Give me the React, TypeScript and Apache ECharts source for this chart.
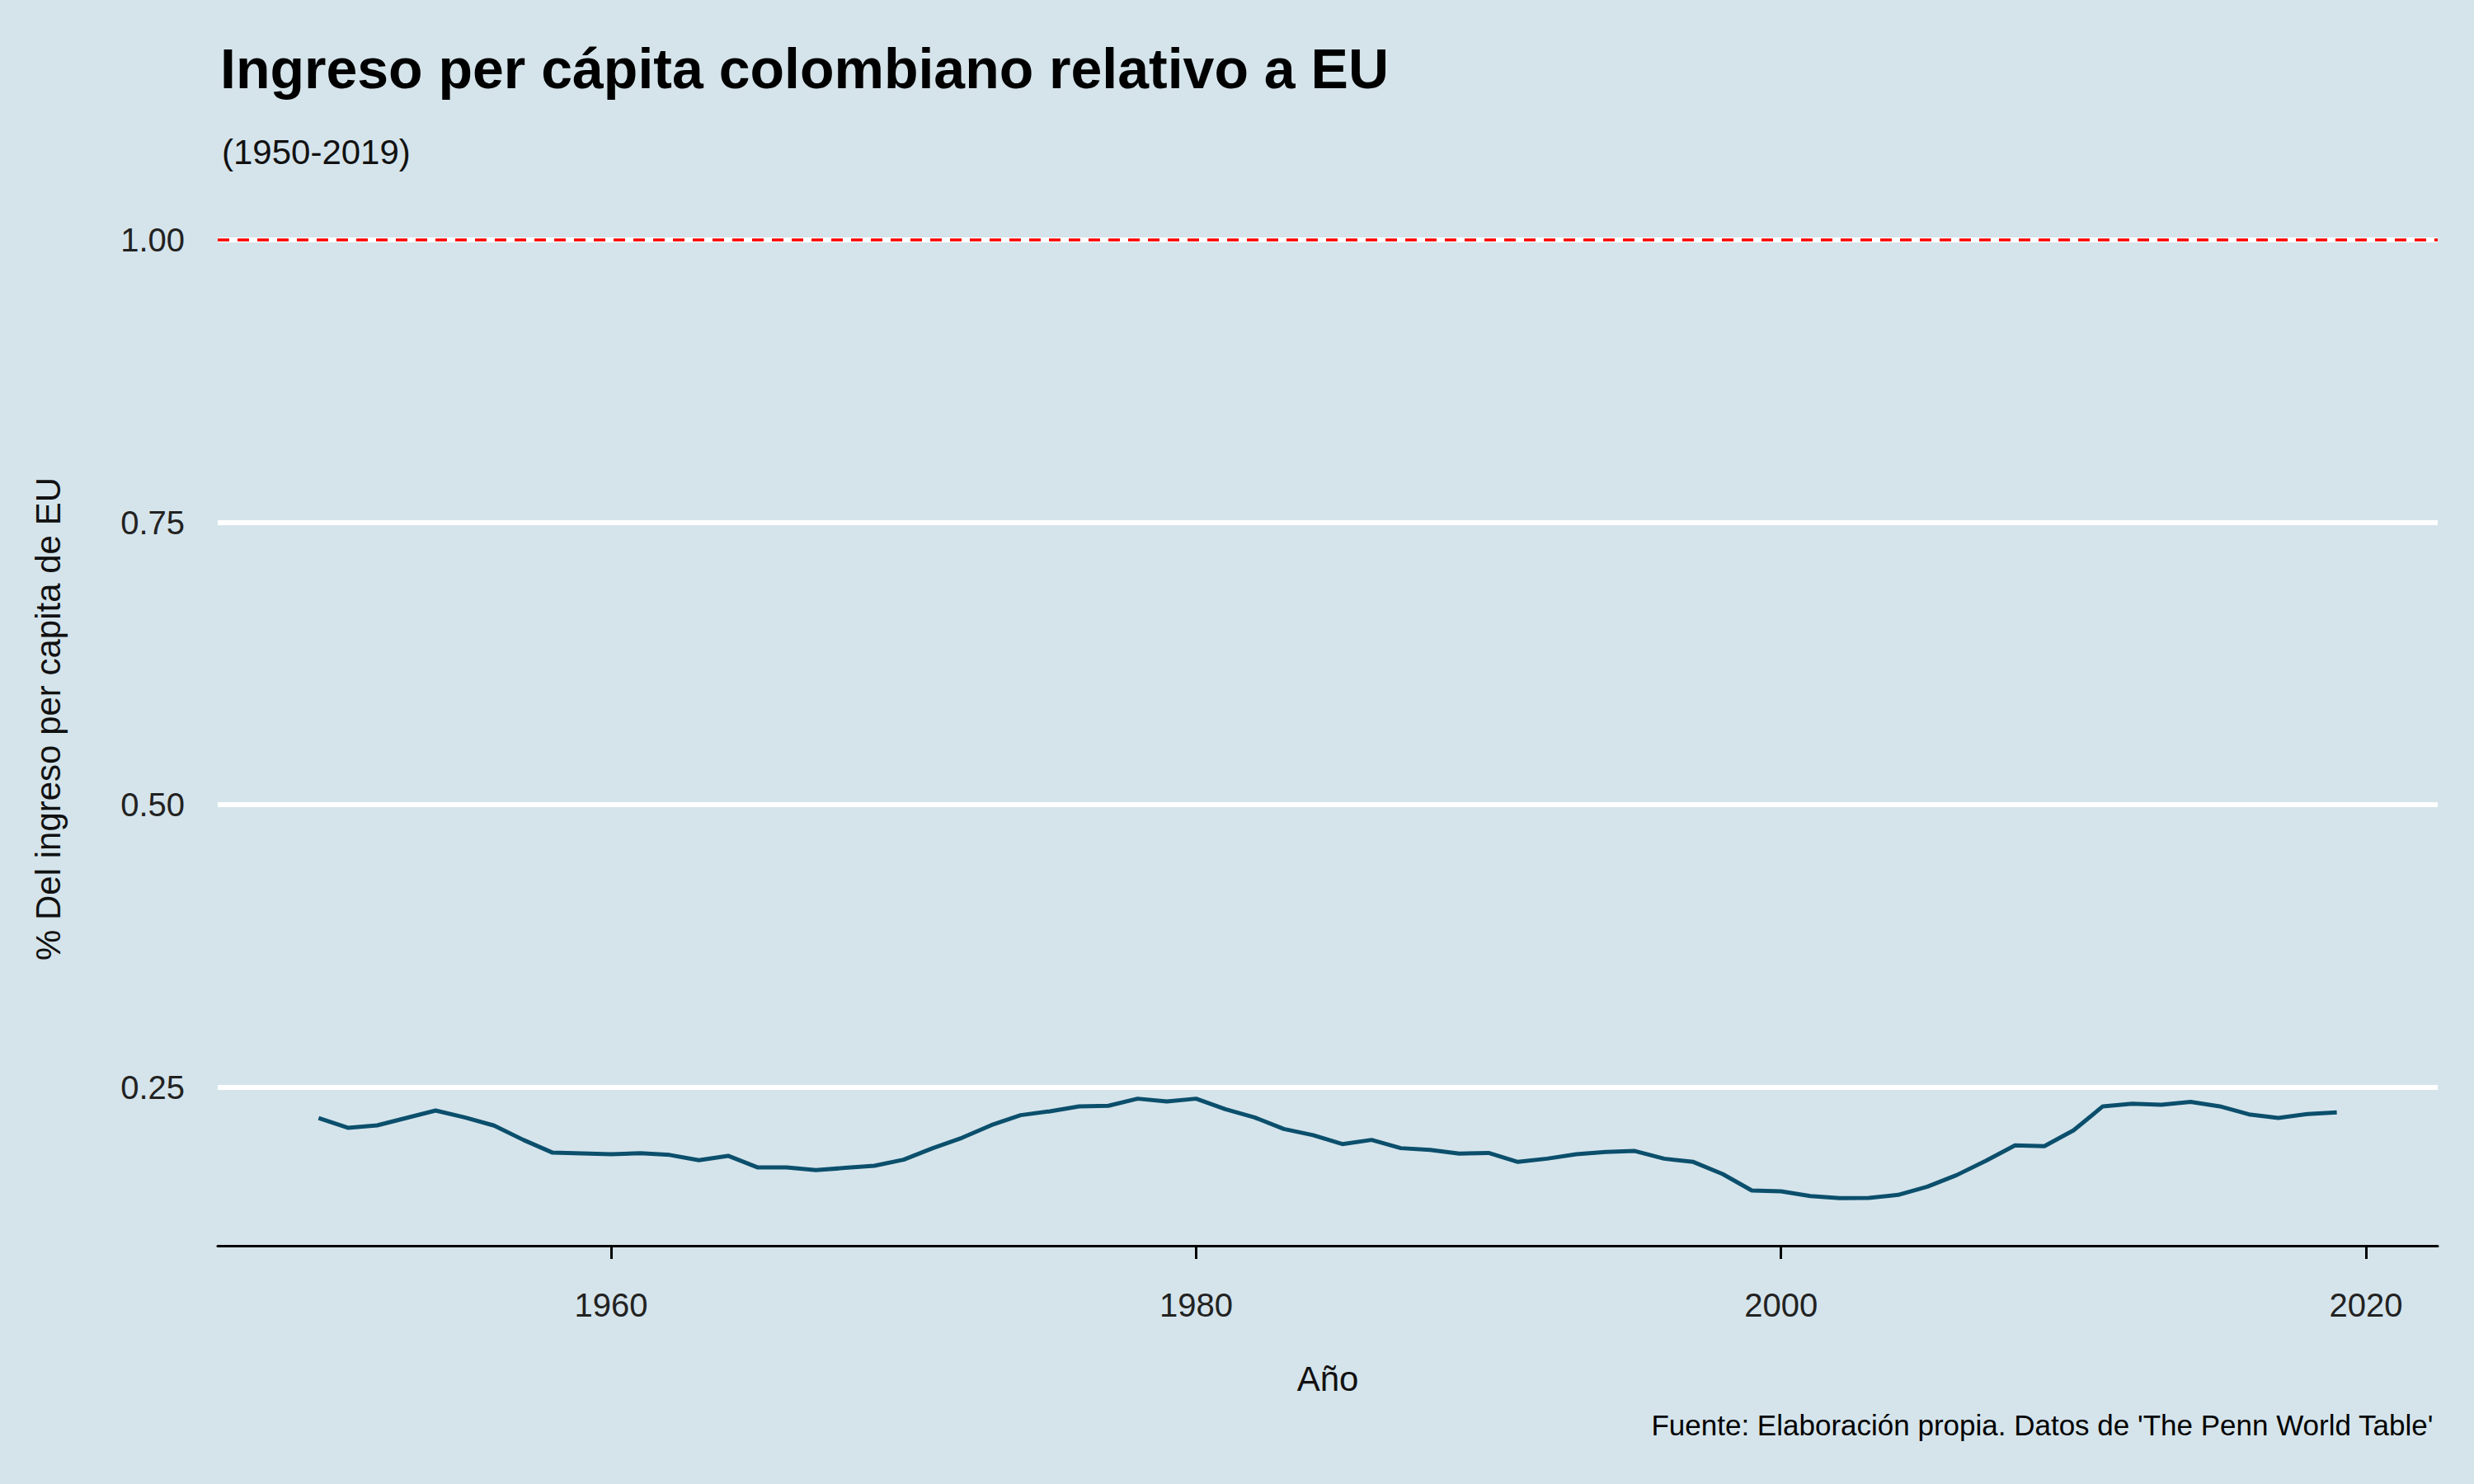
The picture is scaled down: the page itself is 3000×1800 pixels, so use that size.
import React, { useEffect, useRef } from "react";
import * as echarts from "echarts";

const years: number[] = [];
for (let y = 1950; y <= 2019; y++) years.push(y);
const ratio = [
  0.2227, 0.214, 0.2162, 0.2227, 0.2293, 0.2232, 0.216, 0.2033, 0.192, 0.1914,
  0.1906, 0.1916, 0.19, 0.1853, 0.1892, 0.179, 0.179, 0.1765, 0.1785, 0.1804,
  0.1858, 0.196, 0.2052, 0.2164, 0.2252, 0.2286, 0.233, 0.2335, 0.2398, 0.2373,
  0.2398, 0.2305, 0.2232, 0.213, 0.2075, 0.1996, 0.2033, 0.196, 0.1945, 0.1911,
  0.1918, 0.1838, 0.1867, 0.1906, 0.1926, 0.1935, 0.1867, 0.1838, 0.1731, 0.1585,
  0.1578, 0.1536, 0.1517, 0.1519, 0.1546, 0.1619, 0.1721, 0.1848, 0.1984, 0.1977,
  0.2118, 0.233, 0.2354, 0.2344, 0.2369, 0.233, 0.2259, 0.2227, 0.2262, 0.2276,
];
const xTicks = [1960, 1980, 2000, 2020];
const yTicks = [0.25, 0.5, 0.75, 1.0];
const refLevel = 1.0;

export default function App() {
  const ref = useRef<HTMLDivElement>(null);
  useEffect(() => {
    document.body.style.margin = "0";
    const chart = echarts.init(ref.current!, null, { renderer: "svg" });
    const font = "Liberation Sans";
    chart.setOption({
      animation: false,
      backgroundColor: "#d5e4eb",
      textStyle: { fontFamily: font },
      title: [
        { text: "Ingreso per cápita colombiano relativo a EU", left: 262, top: 44,
          textStyle: { fontSize: 68, fontWeight: "bold", color: "#000", fontFamily: font } },
        { text: "(1950-2019)", left: 264, top: 158,
          textStyle: { fontSize: 42, fontWeight: "normal", color: "#111", fontFamily: font } },
        { text: "Fuente: Elaboración propia. Datos de 'The Penn World Table'", right: 44, top: 1706,
          textStyle: { fontSize: 35, fontWeight: "normal", color: "#000", fontFamily: font } },
      ],
      grid: { left: 264, right: 44, top: 233, bottom: 289, containLabel: false },
      xAxis: {
        type: "value", min: 1946.55, max: 2022.45,
        name: "Año", nameLocation: "middle", nameGap: 140,
        nameTextStyle: { fontSize: 42, color: "#111" },
        axisLine: { show: true, onZero: false, lineStyle: { color: "#000", width: 3 } },
        axisTick: { show: true, customValues: xTicks, length: 16, lineStyle: { color: "#000", width: 3 } },
        axisLabel: { customValues: xTicks, fontSize: 40, color: "#222", margin: 52,
          formatter: (v: number) => String(v) },
        splitLine: { show: false },
      },
      yAxis: {
        type: "value", min: 0.1096, max: 1.0424,
        name: "% Del ingreso per capita de EU", nameLocation: "middle", nameGap: 185,
        nameTextStyle: { fontSize: 42, color: "#111" },
        axisLine: { show: false }, axisTick: { show: false },
        axisLabel: { customValues: yTicks, fontSize: 40, color: "#222", margin: 40,
          formatter: (v: number) => v.toFixed(2) },
        splitLine: { show: false },
      },
      series: [
        {
          type: "line", data: [], silent: true,
          markLine: {
            symbol: "none", silent: true, label: { show: false },
            lineStyle: { color: "#fff", width: 6, type: "solid" },
            data: yTicks.map((v) => ({ yAxis: v })),
          },
        },
        {
          type: "line", data: years.map((y, i) => [y, ratio[i]]),
          showSymbol: false, lineStyle: { color: "#0b4f6c", width: 5 }, itemStyle: { color: "#0b4f6c" },
          markLine: {
            symbol: "none", silent: true, label: { show: false },
            lineStyle: { color: "#ff0000", width: 3.5, type: [14, 10] },
            data: [{ yAxis: refLevel }],
          },
        },
      ],
    });
    return () => chart.dispose();
  }, []);
  return <div ref={ref} style={{ width: 3000, height: 1800 }} />;
}
